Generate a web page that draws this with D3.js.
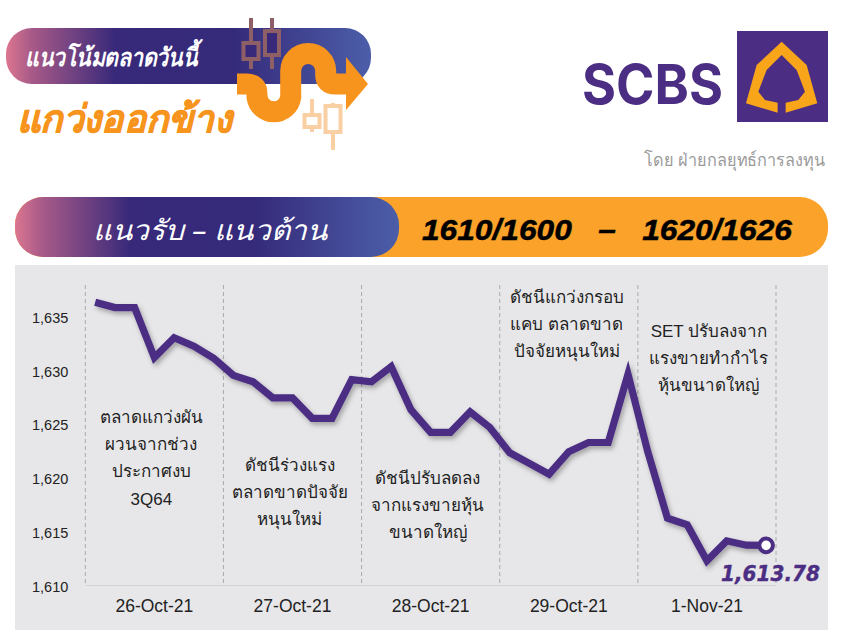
<!DOCTYPE html>
<html lang="th">
<head>
<meta charset="utf-8">
<title>SCBS SET index</title>
<script src="https://cdnjs.cloudflare.com/ajax/libs/d3/7.8.5/d3.min.js"></script>
<style>
    body {margin: 0; background: #fff;}
    text {font-family: "Liberation Sans", Arial, sans-serif;}
    .thai {font-family: "Noto Sans", "Liberation Sans", sans-serif;}
</style>
</head>
<body>
<script>
    // chart data
    const days = ["26-Oct-21", "27-Oct-21", "28-Oct-21", "29-Oct-21", "1-Nov-21"];
    const closes = [
        1636.4, 1635.9, 1635.9, 1631.25, 1633.1, 1632.3, 1631.2,
        1629.6, 1629.0, 1627.5, 1627.5, 1625.6, 1625.6, 1629.2,
        1629.0, 1630.4, 1626.4, 1624.3, 1624.3, 1626.2, 1624.75,
        1622.4, 1621.4, 1620.4, 1622.5, 1623.35, 1623.35, 1629.7,
        1622.5, 1616.3, 1615.7, 1612.35, 1614.2, 1613.8, 1613.78
    ];
    const yTicks = [1610, 1615, 1620, 1625, 1630, 1635];
    const notes = [
        ["ตลาดแกว่งผัน", "ผวนจากช่วง", "ประกาศงบ", "3Q64"],
        ["ดัชนีร่วงแรง", "ตลาดขาดปัจจัย", "หนุนใหม่"],
        ["ดัชนีปรับลดลง", "จากแรงขายหุ้น", "ขนาดใหญ่"],
        ["ดัชนีแกว่งกรอบ", "แคบ ตลาดขาด", "ปัจจัยหนุนใหม่"],
        ["SET ปรับลงจาก", "แรงขายทำกำไร", "หุ้นขนาดใหญ่"]
    ];
    const lastLabel = "1,613.78";

    // layout, kept apart from the values
    const plot = {left: 85.3, right: 776, top: 285, bottom: 586};
    const noteTops = [417, 465, 478, 297, 331];
    const noteShift = [-3, -3, -3, -2, 2];
    const noteStep = 27.2;
    const purple = "#4b2e83", orange = "#faa229";

    const svg = d3.select("body").append("svg")
        .attr("width", 847).attr("height", 640);
    const defs = svg.append("defs");

    function pillGradient(id, stops) {
        const g = defs.append("linearGradient").attr("id", id);
        stops.forEach(s => g.append("stop").attr("offset", s[0]).attr("stop-color", s[1]));
    }
    const pillStops = [[0, "#dc7690"], [0.07, "#a85a88"], [0.3, "#38297a"], [0.62, "#352a7a"], [1, "#4c5ea9"]];
    pillGradient("pill1", pillStops);
    pillGradient("pill2", pillStops);

    const shadow = defs.append("filter").attr("id", "shadow")
        .attr("x", "-5%").attr("y", "-10%").attr("width", "110%").attr("height", "125%");
    shadow.append("feDropShadow").attr("dx", 2).attr("dy", 3).attr("stdDeviation", 2.5)
        .attr("flood-color", "#000").attr("flood-opacity", 0.3);

    renderHeader();
    renderLevels();
    renderChart();

    function renderHeader() {
        svg.append("rect").attr("x", 6).attr("y", 28).attr("width", 365).attr("height", 56)
            .attr("rx", 26).attr("fill", "url(#pill1)");
        svg.append("text").attr("class", "thai").attr("x", 25).attr("y", 66)
            .attr("fill", "#fff").attr("font-size", 25).attr("font-weight", 700).attr("font-style", "italic")
            .attr("textLength", 172).attr("lengthAdjust", "spacingAndGlyphs")
            .text("แนวโน้มตลาดวันนี้");
        svg.append("text").attr("class", "thai").attr("x", 17).attr("y", 132)
            .attr("fill", "#f7941d").attr("font-size", 38).attr("font-weight", 700).attr("font-style", "italic")
            .attr("stroke", "#f7941d").attr("stroke-width", 0.8)
            .attr("textLength", 215).attr("lengthAdjust", "spacingAndGlyphs")
            .text("แกว่งออกข้าง");

        // candles behind and around the arrow
        const candles = [
            {x: 251, top: 18, bottom: 69, y0: 43, y1: 59, w: 15, c: "#8f5f68", inner: "#38297a"},
            {x: 272, top: 18, bottom: 69, y0: 31, y1: 55, w: 14, c: "#8f5f68", inner: "#38297a"},
            {x: 312, top: 99, bottom: 132, y0: 115, y1: 127, w: 15, c: "#f8d0a4", inner: "#fff"},
            {x: 333, top: 103, bottom: 150, y0: 106, y1: 132, w: 15, c: "#f8d0a4", inner: "#fff"}
        ];
        candles.forEach(d => {
            svg.append("line").attr("x1", d.x).attr("x2", d.x).attr("y1", d.top).attr("y2", d.bottom)
                .attr("stroke", d.c).attr("stroke-width", 4);
            svg.append("rect").attr("x", d.x - d.w / 2).attr("y", d.y0).attr("width", d.w).attr("height", d.y1 - d.y0)
                .attr("fill", d.inner).attr("stroke", d.c).attr("stroke-width", 4);
        });
        svg.append("path")
            .attr("d", "M237,84 H247 Q257,84 257,94 V97 A17 17 0 0 0 290.7,97 V71 A17.5 17.5 0 0 1 325.7,71 V75 Q325.7,84 335,84 H348")
            .attr("fill", "none").attr("stroke", "#f7941d").attr("stroke-width", 21);
        svg.append("path").attr("d", "M346,57 L368,84 L346,110 Z").attr("fill", "#f7941d");

        // logo
        svg.append("text").attr("x", 582).attr("y", 104)
            .attr("font-weight", 700).attr("font-size", 55)
            .attr("fill", purple).attr("textLength", 141).attr("lengthAdjust", "spacingAndGlyphs")
            .style("font-family", "Inter")
            .text("SCBS");
        svg.append("rect").attr("x", 737).attr("y", 31).attr("width", 91).attr("height", 91).attr("fill", purple);
        svg.append("path")
            .attr("transform", "translate(540,20) scale(0.3333)")
            .attr("fill-rule", "evenodd").attr("fill", "#f9a51a")
            .attr("d", "M725,65 L800,135 L832,250 L737,278 L737,248 L775,240 L795,215 L770,150 L725,105 L680,150 L655,215 L675,240 L713,248 L713,278 L618,250 L650,135 Z");
        svg.append("text").attr("class", "thai").attr("x", 825).attr("y", 166)
            .attr("text-anchor", "end").attr("fill", "#9a9a9a").attr("font-size", 18).attr("font-weight", 300)
            .attr("textLength", 181).attr("lengthAdjust", "spacingAndGlyphs")
            .text("โดย ฝ่ายกลยุทธ์การลงทุน");
    }

    function renderLevels() {
        svg.append("rect").attr("x", 15).attr("y", 197).attr("width", 813).attr("height", 60)
            .attr("rx", 28).attr("fill", orange);
        svg.append("rect").attr("x", 15).attr("y", 197).attr("width", 384).attr("height", 60)
            .attr("rx", 28).attr("fill", "url(#pill2)");
        svg.append("text").attr("class", "thai").attr("x", 93).attr("y", 240)
            .attr("fill", "#fff").attr("font-size", 28).attr("font-style", "italic")
            .attr("textLength", 234).attr("lengthAdjust", "spacingAndGlyphs")
            .text("แนวรับ – แนวต้าน");
        svg.append("text").attr("x", 422).attr("y", 240)
            .attr("fill", "#000").attr("stroke", "#000").attr("stroke-width", 0.5)
            .attr("font-size", 30).attr("font-weight", 700).attr("font-style", "italic")
            .style("white-space", "pre")
            .attr("textLength", 370).attr("lengthAdjust", "spacingAndGlyphs")
            .text("1610/1600   –   1620/1626");
    }

    function renderChart() {
        svg.append("rect").attr("x", 15).attr("y", 265).attr("width", 813).attr("height", 365).attr("fill", "#e7e7e9");

        const x = d3.scaleBand().domain(d3.range(closes.length)).range([plot.left, plot.right]);
        const xDay = d3.scaleBand().domain(days).range([plot.left, plot.right]);
        const y = d3.scaleLinear().domain([1610, 1638]).range([plot.bottom, plot.top]);

        // dashed day separators
        svg.append("g").selectAll("line")
            .data(d3.range(days.length + 1))
            .join("line")
            .attr("x1", i => plot.left + i * xDay.bandwidth())
            .attr("x2", i => plot.left + i * xDay.bandwidth())
            .attr("y1", plot.top).attr("y2", plot.bottom - 3)
            .attr("stroke", "#ababab").attr("stroke-width", 1).attr("stroke-dasharray", "4,3");

        const yAxis = svg.append("g").attr("transform", `translate(${plot.left - 12},0.5)`)
            .call(d3.axisLeft(y).tickValues(yTicks).tickSize(0).tickPadding(5).tickFormat(d3.format(",")));
        yAxis.select(".domain").remove();
        yAxis.selectAll("text").attr("font-size", 14.5).attr("fill", "#222")
            .style("font-family", "'Liberation Sans'");

        const xAxis = svg.append("g").attr("transform", `translate(0,${plot.bottom - 1})`)
            .call(d3.axisBottom(xDay).tickSize(0).tickPadding(15));
        xAxis.select(".domain").attr("stroke", "#d2d3d5");
        xAxis.selectAll("text").attr("font-size", 17.5).attr("fill", "#222")
            .style("font-family", "'Liberation Sans'");

        // notes, one per day
        const noteGroups = svg.append("g").selectAll("g")
            .data(notes)
            .join("g")
            .attr("transform", (d, i) => `translate(${xDay(days[i]) + xDay.bandwidth() / 2 + noteShift[i]},${noteTops[i]})`);
        noteGroups.selectAll("text")
            .data(d => d)
            .join("text")
            .attr("y", (d, i) => i * noteStep)
            .attr("dy", "0.35em")
            .attr("text-anchor", "middle")
            .attr("font-size", 17)
            .attr("fill", "#222")
            .text(d => d);

        const line = d3.line()
            .x((d, i) => x(i) + x.bandwidth() / 2)
            .y(d => y(d));

        svg.append("path")
            .datum(closes)
            .attr("d", line)
            .attr("fill", "none")
            .attr("stroke", purple)
            .attr("stroke-width", 7.2)
            .attr("stroke-linejoin", "miter")
            .attr("filter", "url(#shadow)");

        const last = closes.length - 1;
        svg.append("circle")
            .attr("cx", x(last) + x.bandwidth() / 2)
            .attr("cy", y(closes[last]))
            .attr("r", 6.8)
            .attr("fill", "#fff").attr("stroke", purple).attr("stroke-width", 4);

        svg.append("text")
            .attr("x", 721).attr("y", 581)
            .attr("font-size", 21).attr("font-weight", 700).attr("font-style", "italic")
            .attr("fill", purple).attr("stroke", purple).attr("stroke-width", 0.4)
            .style("font-family", "'DejaVu Sans'")
            .attr("textLength", 99).attr("lengthAdjust", "spacingAndGlyphs")
            .text(lastLabel);
    }
</script>
</body>
</html>
